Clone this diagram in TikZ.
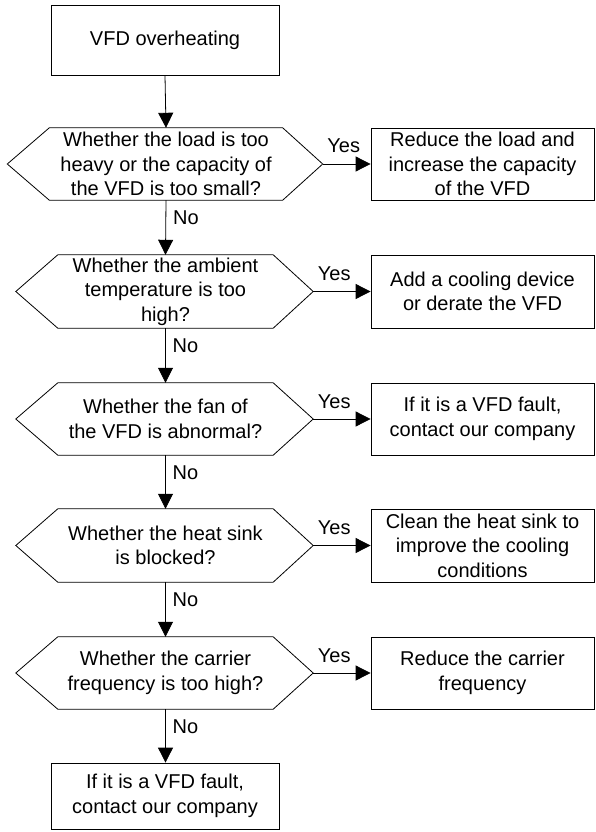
\documentclass[tikz,border=0pt]{standalone}
\usepackage{fontspec}
\setmainfont{Liberation Sans}
\usetikzlibrary{arrows.meta,calc}
\begin{document}
\begin{tikzpicture}[x=1pt,y=1pt,
  every node/.style={font=\fontsize{20}{24.5}\selectfont},
  box/.style={draw,line width=0.8pt,align=center,inner sep=0pt},
  qtext/.style={align=center,inner sep=0pt},
  hexline/.style={line width=0.8pt},
  arr/.style={line width=0.8pt,-{Triangle[width=15pt,length=15pt]}},
  lbl/.style={inner sep=0pt}]
\useasboundingbox (0,0) rectangle (595,-832);

% start box
\node[box,minimum width=228,minimum height=70] (start) at (165,-40) {VFD overheating};

% question nodes (text only; hexagon drawn around)
\node[qtext,minimum width=233,minimum height=72] (q1) at (166,-164)
  {Whether the load is too\\heavy or the capacity of\\the VFD is too small?};
\node[qtext,minimum width=215,minimum height=73] (q2) at (165.5,-291.5)
  {Whether the ambient\\temperature is too\\high?};
\node[qtext,minimum width=215,minimum height=72] (q3) at (165.5,-419)
  {Whether the fan of\\the VFD is abnormal?};
\node[qtext,minimum width=215,minimum height=73] (q4) at (165.5,-545.5)
  {Whether the heat sink\\is blocked?};
\node[qtext,minimum width=215,minimum height=72] (q5) at (165.5,-673)
  {Whether the carrier\\frequency is too high?};

% hexagon tips
\coordinate (q1w) at ($(q1.west)+(-42,0)$);
\coordinate (q1e) at ($(q1.east)+(40,0)$);
\foreach \q in {q2,q3,q4,q5}{
  \coordinate (\q w) at ($(\q.west)+(-42,0)$);
  \coordinate (\q e) at ($(\q.east)+(40,0)$);
}
\foreach \q in {q1,q2,q3,q4,q5}{
  \draw[hexline] (\q.north west) -- (\q.north east) -- (\q e) -- (\q.south east)
    -- (\q.south west) -- (\q w) -- cycle;
}

% right boxes
\node[box,minimum width=223,minimum height=72] (b1) at (482.5,-164)
  {Reduce the load and\\increase the capacity\\of the VFD};
\node[box,minimum width=223,minimum height=73] (b2) at (482.5,-291.5)
  {Add a cooling device\\or derate the VFD};
\node[box,minimum width=223,minimum height=72] (b3) at (482.5,-419)
  {If it is a VFD fault,\\contact our company};
\node[box,minimum width=223,minimum height=73] (b4) at (482.5,-545.5)
  {Clean the heat sink to\\improve the cooling\\conditions};
\node[box,minimum width=223,minimum height=72] (b5) at (482.5,-673)
  {Reduce the carrier\\frequency};

% final box
\node[box,minimum width=228,minimum height=66] (end) at (165,-796)
  {If it is a VFD fault,\\contact our company};

% vertical connectors
\draw[arr] (start.south) -- (q1.north);
\draw[arr] (q1.south) -- (q2.north);
\draw[arr] (q2.south) -- (q3.north);
\draw[arr] (q3.south) -- (q4.north);
\draw[arr] (q4.south) -- (q5.north);
\draw[arr] (q5.south) -- (end.north -| q5.south);

% No labels
\foreach \q in {q1,q2,q3,q4,q5}{
  \node[lbl,anchor=base west] (\q no) at ($(\q.south)+(7,-24)$) {No};
}

% Yes connectors
\foreach \q/\b in {q1/b1,q2/b2,q3/b3,q4/b4,q5/b5}{
  \draw[arr] (\q e) -- (\b.west);
  \node[lbl,anchor=base] (\q yes) at ($(\q e)+(21,11)$) {Yes};
}
\end{tikzpicture}
\end{document}
